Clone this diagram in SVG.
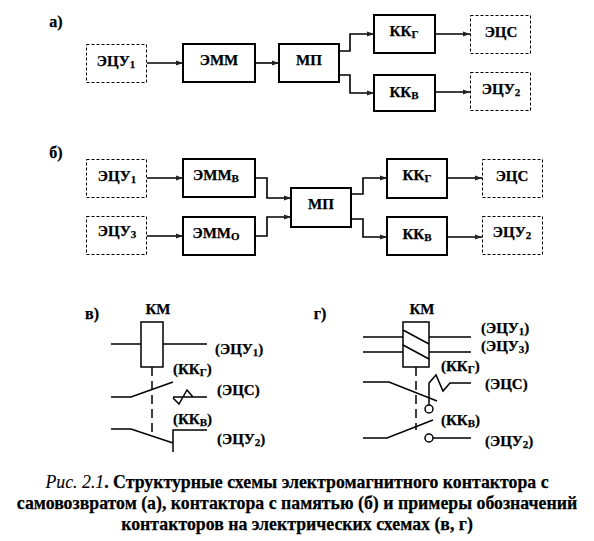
<svg xmlns="http://www.w3.org/2000/svg" width="594" height="541" viewBox="0 0 594 541">
<style>
text{font-family:"Liberation Serif","Times New Roman",serif;font-weight:bold;font-size:15px;fill:#000;stroke:#000;stroke-width:.25;text-anchor:middle}
.s{font-size:11px}
.h{font-size:16px}
.l{text-anchor:start}
.cap{font-size:17.8px}
.it{font-style:italic;font-weight:normal;stroke-width:.1}
.box{fill:#fff;stroke:#000;stroke-width:2}
.dash{fill:#fff;stroke:#000;stroke-width:1;stroke-dasharray:3 2}
.w{fill:none;stroke:#000;stroke-width:1.6;marker-end:url(#a)}
.t{fill:none;stroke:#000;stroke-width:1.5}
</style>
<defs>
<marker id="a" markerUnits="userSpaceOnUse" markerWidth="8" markerHeight="6" refX="7" refY="3" orient="auto"><path d="M0 .6L7 3L0 5.4z" fill="#222"/></marker>
</defs>
<g id="connectors">
<path class="w" d="M147 63H183"/>
<path class="w" d="M255 63H279"/>
<path class="w" d="M339 51H350V34H374"/>
<path class="w" d="M339 75H350V93H374"/>
<path class="w" d="M435 34H470"/>
<path class="w" d="M435 92H470"/>
<path class="w" d="M147 178H183"/>
<path class="w" d="M147 236H183"/>
<path class="w" d="M255 178H267V198H291"/>
<path class="w" d="M255 236H267V217H291"/>
<path class="w" d="M351 194H363V178H387"/>
<path class="w" d="M351 219H363V237H387"/>
<path class="w" d="M447 178H482"/>
<path class="w" d="M447 237H482"/>
</g>
<text class="h" x="56" y="27">а)</text>
<text class="h" x="56" y="158">б)</text>
<g id="a-ecu1"><rect class="dash" x="86.500" y="44.500" width="60" height="38"/><text x="116" y="66">ЭЦУ<tspan class="s" dy="2">1</tspan></text></g>
<g id="a-emm"><rect class="box" x="183" y="44" width="72" height="38"/><text x="219" y="65">ЭММ</text></g>
<g id="a-mp"><rect class="box" x="279" y="44" width="60" height="38"/><text x="309" y="65">МП</text></g>
<g id="a-kkg"><rect class="box" x="374" y="15" width="61" height="38"/><text x="404" y="36">КК<tspan class="s" dy="2">Г</tspan></text></g>
<g id="a-kkv"><rect class="box" x="374" y="75" width="61" height="36"/><text x="404" y="97">КК<tspan class="s" dy="2">В</tspan></text></g>
<g id="a-ecs"><rect class="dash" x="470.500" y="15.500" width="60" height="38"/><text x="501" y="37">ЭЦС</text></g>
<g id="a-ecu2"><rect class="dash" x="470.500" y="72.500" width="60" height="38"/><text x="501" y="94">ЭЦУ<tspan class="s" dy="2">2</tspan></text></g>
<g id="b-ecu1"><rect class="dash" x="86.500" y="159.500" width="60" height="38"/><text x="117" y="181">ЭЦУ<tspan class="s" dy="2">1</tspan></text></g>
<g id="b-ecu3"><rect class="dash" x="86.500" y="216.500" width="60" height="38"/><text x="117" y="236">ЭЦУ<tspan class="s" dy="2">3</tspan></text></g>
<g id="b-emmv"><rect class="box" x="183" y="159" width="72" height="38"/><text x="216" y="180">ЭММ<tspan class="s" dy="2">В</tspan></text></g>
<g id="b-emmo"><rect class="box" x="183" y="217" width="72" height="38"/><text x="216" y="238">ЭММ<tspan class="s" dy="2">О</tspan></text></g>
<g id="b-mp"><rect class="box" x="291" y="188" width="60" height="39"/><text x="321" y="209">МП</text></g>
<g id="b-kkg"><rect class="box" x="387" y="159" width="60" height="39"/><text x="417" y="180">КК<tspan class="s" dy="2">Г</tspan></text></g>
<g id="b-kkv"><rect class="box" x="387" y="217" width="60" height="38"/><text x="417" y="239">КК<tspan class="s" dy="2">В</tspan></text></g>
<g id="b-ecs"><rect class="dash" x="482.500" y="159.500" width="60" height="38"/><text x="512" y="181">ЭЦС</text></g>
<g id="b-ecu2"><rect class="dash" x="482.500" y="216.500" width="60" height="38"/><text x="512" y="237">ЭЦУ<tspan class="s" dy="2">2</tspan></text></g>
<g id="v">
<text class="h" x="92" y="319">в)</text>
<text x="158" y="314">КМ</text>
<path class="t" d="M111 344H141M163 344H207"/>
<rect class="t" x="141" y="322" width="22" height="45"/>
<path class="t" d="M152 367V432" stroke-dasharray="9 5"/>
<path class="t" d="M111 397H131L173 382"/>
<path class="t" d="M173 398L179 404L187 390L193 397M173 397H207"/>
<path class="t" d="M111 429H131L173 443M173 452V430H207"/>
<text class="l" x="173" y="374">(КК<tspan class="s" dy="2">Г</tspan><tspan dy="-2">)</tspan></text>
<text class="l" x="173" y="424">(КК<tspan class="s" dy="2">В</tspan><tspan dy="-2">)</tspan></text>
<text class="l" x="215" y="354">(ЭЦУ<tspan class="s" dy="2">1</tspan><tspan dy="-2">)</tspan></text>
<text class="l" x="217" y="395">(ЭЦС)</text>
<text class="l" x="217" y="444">(ЭЦУ<tspan class="s" dy="2">2</tspan><tspan dy="-2">)</tspan></text>
</g>
<g id="g">
<text class="h" x="320" y="319">г)</text>
<text x="422" y="314">КМ</text>
<path class="t" d="M363 337H403M429 337H471M363 352H403M429 352H471"/>
<rect class="t" x="403" y="322" width="26" height="45"/>
<path class="t" d="M403 330L429 344M403 345L429 359"/>
<path class="t" d="M416 367V430" stroke-dasharray="9 5"/>
<path class="t" d="M363 382H389L437 401"/>
<path class="t" d="M429 405V383L436 375L443 391L450 383H471"/>
<circle class="t" cx="429" cy="409" r="4"/>
<path class="t" d="M363 438H387L433 420"/>
<circle class="t" cx="429" cy="438" r="4"/>
<path class="t" d="M433 438H471"/>
<text class="l" x="441" y="371">(КК<tspan class="s" dy="2">Г</tspan><tspan dy="-2">)</tspan></text>
<text class="l" x="441" y="425">(КК<tspan class="s" dy="2">В</tspan><tspan dy="-2">)</tspan></text>
<text class="l" x="481" y="333">(ЭЦУ<tspan class="s" dy="2">1</tspan><tspan dy="-2">)</tspan></text>
<text class="l" x="481" y="351">(ЭЦУ<tspan class="s" dy="2">3</tspan><tspan dy="-2">)</tspan></text>
<text class="l" x="485" y="389">(ЭЦС)</text>
<text class="l" x="485" y="446">(ЭЦУ<tspan class="s" dy="2">2</tspan><tspan dy="-2">)</tspan></text>
</g>
<text class="cap" x="297" y="488"><tspan class="it">Рис. 2.1</tspan>. Структурные схемы электромагнитного контактора с</text>
<text class="cap" x="297" y="509">самовозвратом (а), контактора с памятью (б) и примеры обозначений</text>
<text class="cap" x="297" y="530">контакторов на электрических схемах (в, г)</text>
</svg>
